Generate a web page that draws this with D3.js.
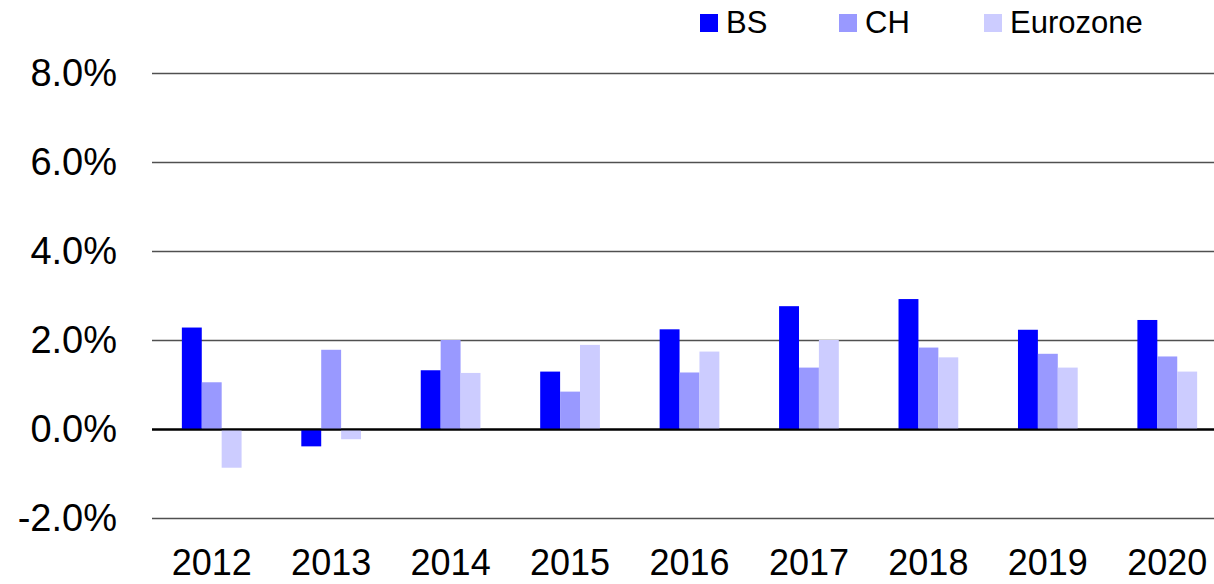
<!DOCTYPE html>
<html>
<head>
<meta charset="utf-8">
<script src="https://cdn.jsdelivr.net/npm/d3@7"></script>
<style>
  html, body { margin: 0; padding: 0; background: #fff; }
  svg { display: block; font-family: "Liberation Sans", Arial, sans-serif; }
</style>
</head>
<body>
<svg id="chart" width="1214" height="584"></svg>
<script>
const years = ["2012","2013","2014","2015","2016","2017","2018","2019","2020"];
const seriesNames = ["BS","CH","Eurozone"];
const bs = [2.28, -0.39, 1.32, 1.29, 2.24, 2.76, 2.92, 2.23, 2.45];
const ch = [1.05, 1.78, 2.00, 0.84, 1.27, 1.38, 1.83, 1.69, 1.63];
const ez = [-0.87, -0.23, 1.26, 1.89, 1.74, 2.00, 1.61, 1.38, 1.29];
const yTicks = [-2, 0, 2, 4, 6, 8];
const colors = ["#0000ff", "#9999ff", "#ccccff"];

const values = [bs, ch, ez];
const data = years.map((yr, i) => ({year: yr, vals: seriesNames.map((s, j) => ({key: s, v: values[j][i]}))}));

const svg = d3.select("#chart");
const y = d3.scaleLinear().domain([-2, 8]).range([518, 73]);
const x0 = d3.scaleBand().domain(years).range([152, 1227]).paddingInner(0.5).paddingOuter(0.25);
const x1 = d3.scaleBand().domain(seriesNames).range([0, x0.bandwidth()]);
const color = d3.scaleOrdinal().domain(seriesNames).range(colors);

// gridlines
svg.append("g").selectAll("line").data(yTicks).join("line")
  .attr("x1", 152).attr("x2", 1214)
  .attr("y1", d => Math.round(y(d)) + 0.5).attr("y2", d => Math.round(y(d)) + 0.5)
  .attr("stroke", d => d === 0 ? "#000" : "#505050")
  .attr("stroke-width", d => d === 0 ? 2 : 1.6);

// y labels
svg.append("g").selectAll("text").data(yTicks).join("text")
  .attr("x", 117).attr("y", d => y(d))
  .attr("dy", "0.35em")
  .attr("text-anchor", "end")
  .attr("font-size", 38)
  .attr("fill", "#000")
  .text(d => d.toFixed(1) + "%");

// bars
const groups = svg.append("g").selectAll("g").data(data).join("g")
  .attr("transform", d => `translate(${x0(d.year)},0)`);
groups.selectAll("rect").data(d => d.vals).join("rect")
  .attr("x", d => x1(d.key))
  .attr("width", x1.bandwidth())
  .attr("y", d => y(Math.max(0, d.v)))
  .attr("height", d => Math.abs(y(d.v) - y(0)))
  .attr("fill", d => color(d.key));

// redraw zero line on top
svg.append("line")
  .attr("x1", 152).attr("x2", 1214)
  .attr("y1", Math.round(y(0)) + 0.5).attr("y2", Math.round(y(0)) + 0.5)
  .attr("stroke", "#000").attr("stroke-width", 2);

// x labels
svg.append("g").selectAll("text").data(years).join("text")
  .attr("x", d => x0(d) + x0.bandwidth() / 2)
  .attr("y", 575)
  .attr("text-anchor", "middle")
  .attr("font-size", 36)
  .attr("fill", "#000")
  .text(d => d);

// legend
const legendX = [700, 839, 984];
const legend = svg.append("g").selectAll("g").data(seriesNames).join("g")
  .attr("transform", (d, i) => `translate(${legendX[i]},14)`);
legend.append("rect").attr("width", 18).attr("height", 18).attr("fill", d => color(d));
legend.append("text").attr("x", 26).attr("y", 18.5)
  .attr("font-size", 31).attr("fill", "#000").text(d => d);
</script>
</body>
</html>
